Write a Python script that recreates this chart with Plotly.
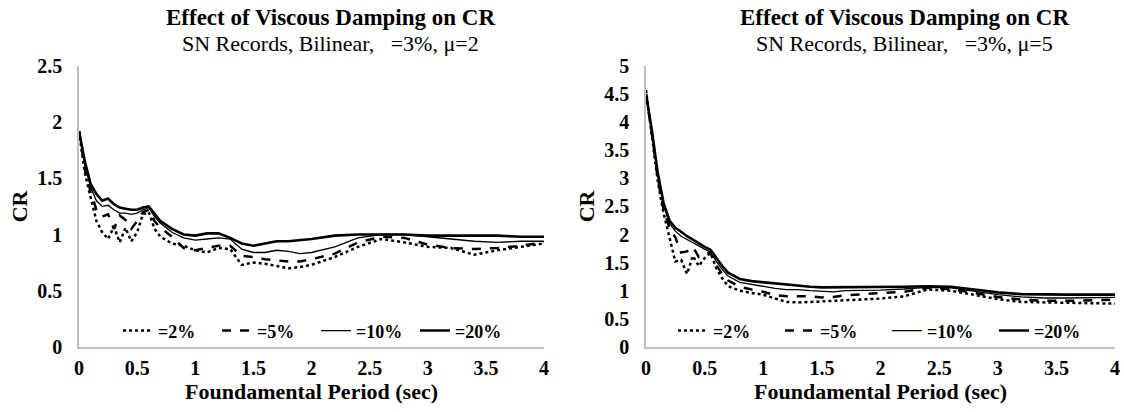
import plotly.graph_objects as go

# ---------------- data ----------------
T = [0, 0.05, 0.1, 0.15, 0.2, 0.25, 0.3, 0.35, 0.4, 0.45, 0.5, 0.55, 0.6, 0.65, 0.7,
     0.8, 0.9, 1.0, 1.1, 1.2, 1.3, 1.4, 1.5, 1.6, 1.7, 1.8, 1.9, 2.0, 2.2, 2.4, 2.6,
     2.8, 3.0, 3.2, 3.4, 3.6, 3.8, 4.0]

# Left panel (mu = 2)
mu2_z2 = [1.92, 1.55, 1.33, 1.12, 1.02, 0.96, 1.07, 0.93, 1.06, 0.94, 1.02, 1.18, 1.20, 1.05, 0.98,
          0.92, 0.90, 0.86, 0.84, 0.88, 0.87, 0.73, 0.75, 0.74, 0.72, 0.70, 0.71, 0.73, 0.80, 0.89, 0.96,
          0.93, 0.89, 0.88, 0.82, 0.86, 0.89, 0.92]
mu2_z5 = [1.92, 1.58, 1.38, 1.22, 1.16, 1.18, 1.05, 1.17, 1.13, 1.05, 1.12, 1.20, 1.22, 1.12, 1.06,
          0.98, 0.88, 0.86, 0.88, 0.90, 0.90, 0.81, 0.80, 0.78, 0.77, 0.76, 0.76, 0.78, 0.83, 0.93, 0.98,
          0.97, 0.91, 0.88, 0.87, 0.88, 0.90, 0.93]
mu2_z10 = [1.92, 1.62, 1.42, 1.30, 1.25, 1.26, 1.22, 1.19, 1.19, 1.18, 1.19, 1.22, 1.24, 1.16, 1.10,
           1.02, 0.97, 0.95, 0.96, 0.97, 0.96, 0.87, 0.84, 0.84, 0.86, 0.85, 0.83, 0.84, 0.89, 0.97, 1.00,
           1.00, 0.98, 0.96, 0.94, 0.93, 0.94, 0.94]
mu2_z20 = [1.92, 1.65, 1.45, 1.36, 1.30, 1.32, 1.27, 1.24, 1.23, 1.22, 1.22, 1.24, 1.25, 1.18, 1.12,
           1.05, 1.00, 0.99, 1.01, 1.01, 0.97, 0.92, 0.90, 0.92, 0.94, 0.94, 0.95, 0.96, 0.99, 1.00, 1.00,
           1.00, 0.99, 0.99, 0.99, 0.99, 0.98, 0.98]

# Right panel (mu = 5)
mu5_z2 = [4.57, 3.78, 2.95, 2.38, 1.95, 1.52, 1.55, 1.30, 1.62, 1.44, 1.58, 1.67, 1.40, 1.22, 1.08,
          1.00, 0.96, 0.93, 0.86, 0.80, 0.79, 0.80, 0.81, 0.82, 0.83, 0.84, 0.85, 0.86, 0.90, 1.02, 1.00,
          0.92, 0.85, 0.80, 0.79, 0.78, 0.78, 0.77]
mu5_z5 = [4.50, 3.80, 3.00, 2.45, 2.12, 1.95, 1.68, 1.70, 1.78, 1.60, 1.66, 1.68, 1.45, 1.30, 1.18,
          1.07, 1.02, 0.98, 0.92, 0.90, 0.90, 0.90, 0.88, 0.89, 0.92, 0.93, 0.94, 0.95, 0.98, 1.05, 1.03,
          0.96, 0.89, 0.84, 0.82, 0.82, 0.83, 0.84]
mu5_z10 = [4.50, 3.82, 3.05, 2.52, 2.20, 2.06, 1.97, 1.91, 1.86, 1.80, 1.74, 1.69, 1.52, 1.38, 1.26,
           1.15, 1.11, 1.08, 1.04, 1.02, 1.02, 1.00, 0.99, 0.98, 1.00, 1.00, 1.01, 1.01, 1.03, 1.06, 1.05,
           0.99, 0.93, 0.89, 0.87, 0.87, 0.88, 0.88]
mu5_z20 = [4.50, 3.85, 3.10, 2.56, 2.25, 2.12, 2.05, 1.97, 1.91, 1.84, 1.78, 1.73, 1.58, 1.44, 1.32,
           1.21, 1.17, 1.15, 1.12, 1.10, 1.08, 1.07, 1.06, 1.06, 1.06, 1.06, 1.06, 1.06, 1.07, 1.08, 1.07,
           1.02, 0.97, 0.94, 0.93, 0.93, 0.93, 0.93]

names = ["=2%", "=5%", "=10%", "=20%"]
x_ticks = [0, 0.5, 1, 1.5, 2, 2.5, 3, 3.5, 4]
x_tick_labels = ["0", "0.5", "1", "1.5", "2", "2.5", "3", "3.5", "4"]

title_text = "Effect of Viscous Damping on CR"
subtitle_left = "SN Records, Bilinear,   =3%, μ=2"
subtitle_right = "SN Records, Bilinear,   =3%, μ=5"
x_title = "Foundamental Period (sec)"
y_title = "CR"

# ---------------- styles ----------------
FONT = "Liberation Serif"
styles = [dict(color="black", width=2.5, dash="dot"),
          dict(color="black", width=2.5, dash="dash"),
          dict(color="black", width=1.3, dash="solid"),
          dict(color="black", width=2.6, dash="solid")]

fig = go.Figure()
for ys, st, nm in zip([mu2_z2, mu2_z5, mu2_z10, mu2_z20], styles, names):
    fig.add_trace(go.Scatter(x=T, y=ys, mode="lines", line=st, name=nm,
                             xaxis="x", yaxis="y", legend="legend"))
for ys, st, nm in zip([mu5_z2, mu5_z5, mu5_z10, mu5_z20], styles, names):
    fig.add_trace(go.Scatter(x=T, y=ys, mode="lines", line=st, name=nm,
                             xaxis="x2", yaxis="y2", legend="legend2"))

tick_font = dict(family=FONT, size=20, color="black", weight="bold")
title_font = dict(family=FONT, size=22, color="black", weight="bold")
axis_common = dict(showgrid=False, zeroline=False, showline=True, linecolor="#bfbfbf",
                   linewidth=1.5, ticks="", automargin=False, tickfont=tick_font)
ydom = [0.158, 0.840]
fig.update_layout(
    template="none",
    width=1124, height=412,
    margin=dict(l=0, r=0, t=0, b=0, autoexpand=False),
    plot_bgcolor="white", paper_bgcolor="white",
    font=dict(family=FONT, color="black"),
    xaxis=dict(domain=[79/1124, 544/1124], range=[0, 4], tickvals=x_ticks, ticktext=x_tick_labels,
               anchor="y", ticklabelstandoff=2,
               title=dict(text=x_title, font=title_font, standoff=0),
               **axis_common),
    yaxis=dict(domain=ydom, range=[0, 2.5], dtick=0.5, anchor="x", ticklabelstandoff=11,
               title=dict(text=y_title, font=title_font, standoff=4),
               **axis_common),
    xaxis2=dict(domain=[646/1124, 1115/1124], range=[0, 4], tickvals=x_ticks, ticktext=x_tick_labels,
                anchor="y2", ticklabelstandoff=2,
                title=dict(text=x_title, font=title_font, standoff=0),
                **axis_common),
    yaxis2=dict(domain=ydom, range=[0, 5], dtick=0.5, anchor="x2", ticklabelstandoff=11,
                title=dict(text=y_title, font=title_font, standoff=4),
                **axis_common),
    legend=dict(orientation="h", x=118/1124, y=0.197, xanchor="left", yanchor="middle",
                bgcolor="rgba(0,0,0,0)", entrywidth=54, entrywidthmode="pixels",
                font=dict(family=FONT, size=18, color="black", weight="bold")),
    legend2=dict(orientation="h", x=673/1124, y=0.197, xanchor="left", yanchor="middle",
                 bgcolor="rgba(0,0,0,0)", entrywidth=62, entrywidthmode="pixels",
                 font=dict(family=FONT, size=18, color="black", weight="bold")),
    showlegend=True,
)

for cx, sub in [(330, subtitle_left), (904, subtitle_right)]:
    fig.add_annotation(x=cx/1124, y=1 - 18/412, xref="paper", yref="paper", showarrow=False,
                       text="<b>" + title_text + "</b>", font=dict(family=FONT, size=23, color="black"),
                       xanchor="center", yanchor="middle")
    fig.add_annotation(x=cx/1124, y=1 - 43.5/412, xref="paper", yref="paper", showarrow=False,
                       text=sub, font=dict(family=FONT, size=22, color="black"),
                       xanchor="center", yanchor="middle")

fig.write_html("out.html", config={"displayModeBar": False},
               post_script="document.body.style.margin='0px';")
